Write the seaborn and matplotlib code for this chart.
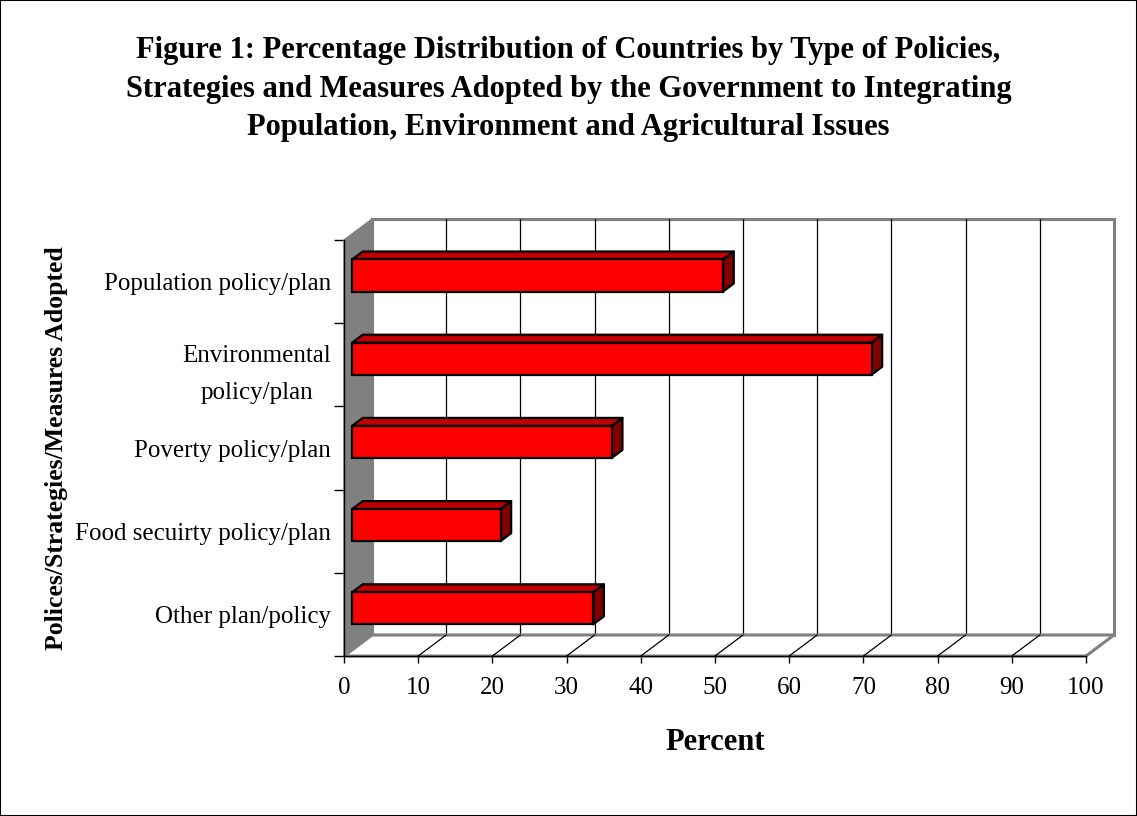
import matplotlib
matplotlib.use("Agg")
import matplotlib.pyplot as plt
from matplotlib.patches import Polygon, Rectangle
import seaborn as sns
import pandas as pd

# ---- data -------------------------------------------------------------
categories = [
    "Population policy/plan",
    "Environmental\npolicy/plan",
    "Poverty policy/plan",
    "Food secuirty policy/plan",
    "Other plan/policy",
]
percent = [50.0, 70.0, 35.0, 20.0, 32.5]
x_ticks = [0, 10, 20, 30, 40, 50, 60, 70, 80, 90, 100]

title = ("Figure 1: Percentage Distribution of Countries by Type of Policies,\n"
         "Strategies and Measures Adopted by the Government to Integrating\n"
         "Population, Environment and Agricultural Issues")
x_label = "Percent"
y_label = "Polices/Strategies/Measures Adopted"

# ---- style ------------------------------------------------------------
sns.set_style("white")
plt.rcParams["font.family"] = ["Liberation Serif", "DejaVu Serif"]
plt.rcParams.update({"text.color": "black", "axes.labelcolor": "black",
                     "xtick.color": "black", "ytick.color": "black"})

W, H = 1137, 816
fig = plt.figure(figsize=(W / 100, H / 100), dpi=100)

# front plane of the 3-D box, in pixels
L, R, T, B = 344, 1086, 240, 656
ax = fig.add_axes([L / W, 1 - B / H, (R - L) / W, (B - T) / H])
ax.set_facecolor("none")

n = len(categories)
xmax = x_ticks[-1]
px_per_x = (R - L) / xmax
px_per_y = (B - T) / n
# depth of the box (oblique projection), converted to data units
ddx = 28 / px_per_x
ddy = -21 / px_per_y
f0, f1 = 0.29, 0.67   # front / back of the bars inside the box depth

df = pd.DataFrame({"policy": categories, "percent": percent})
sns.barplot(data=df, x="percent", y="policy", orient="h", width=0.385,
            color="#FF0000", saturation=1, edgecolor="black", linewidth=1.6,
            ax=ax, zorder=6)
ax.set_xlim(0, xmax)
ax.set_ylim(n - 0.5, -0.5)

bars = list(ax.patches)
for p in bars:
    p.set_x(p.get_x() + f0 * ddx)
    p.set_y(p.get_y() + f0 * ddy)
    p.set_clip_on(False)

# top and side faces of each bar
sx, sy = (f1 - f0) * ddx, (f1 - f0) * ddy
for p in bars:
    x0, w = p.get_x(), p.get_width()
    yt, yb = p.get_y(), p.get_y() + p.get_height()
    if yt > yb:
        yt, yb = yb, yt
    top = Polygon([(x0, yt), (x0 + w, yt), (x0 + w + sx, yt + sy), (x0 + sx, yt + sy)],
                  closed=True, facecolor="#C00000", edgecolor="black",
                  linewidth=1.6, joinstyle="round", zorder=5, clip_on=False)
    side = Polygon([(x0 + w, yt), (x0 + w, yb), (x0 + w + sx, yb + sy), (x0 + w + sx, yt + sy)],
                   closed=True, facecolor="#800000", edgecolor="black",
                   linewidth=1.6, joinstyle="round", zorder=5, clip_on=False)
    ax.add_patch(top)
    ax.add_patch(side)

# back wall with gridlines
grey = "#808080"
ybot, ytop = n - 0.5, -0.5
ax.add_patch(Rectangle((ddx, ytop + ddy), xmax, n, facecolor="white",
                       edgecolor=grey, linewidth=2.2, zorder=0.5, clip_on=False))
for v in x_ticks[1:-1]:
    ax.plot([v + ddx, v + ddx], [ytop + ddy, ybot + ddy], color="black",
            linewidth=0.9, zorder=1, clip_on=False)

# floor with its depth lines
ax.add_patch(Polygon([(0, ybot), (xmax, ybot), (xmax + ddx, ybot + ddy), (ddx, ybot + ddy)],
                     closed=True, facecolor="white", edgecolor=grey, linewidth=2.2,
                     zorder=1.5, clip_on=False))
for v in x_ticks[1:-1]:
    ax.plot([v, v + ddx], [ybot, ybot + ddy], color="black", linewidth=0.9,
            zorder=2, clip_on=False)

# side wall
ax.add_patch(Polygon([(0, ybot), (0, ytop), (ddx, ytop + ddy), (ddx, ybot + ddy)],
                     closed=True, facecolor=grey, edgecolor=grey, linewidth=1,
                     zorder=2.2, clip_on=False))

# axes, ticks and labels
for s in ("top", "right"):
    ax.spines[s].set_visible(False)
for s in ("left", "bottom"):
    ax.spines[s].set_color("black")
    ax.spines[s].set_linewidth(1.0)
    ax.spines[s].set_zorder(3)

ax.set_xticks(x_ticks)
ax.set_xticklabels([str(t) for t in x_ticks])
ax.tick_params(axis="x", direction="out", length=5, width=1, color="black",
               pad=10, labelsize=18, bottom=True)
ax.set_yticks(range(n))
ax.set_yticklabels(categories)
ax.set_yticks([i - 0.5 for i in range(n + 1)], minor=True)
ax.tick_params(axis="y", which="major", length=0, pad=9.5, labelsize=18, left=True)
ax.tick_params(axis="y", which="minor", direction="out", length=7, width=1,
               color="black", left=True)
for lab in ax.get_yticklabels():
    lab.set_multialignment("center")
    lab.set_linespacing(1.85)

ax.set_xlabel(x_label, fontsize=22, fontweight="bold", va="center")
ax.xaxis.set_label_coords(0.5, -(743 - B) / (B - T))
ax.set_ylabel(y_label, fontsize=18.5, fontweight="bold", va="center")
ax.yaxis.set_label_coords(-(L - 57) / (R - L), 0.5)

fig.text(0.5, 1 - 89 / H, title, ha="center", va="center", fontsize=22,
         fontweight="bold", linespacing=1.45)

fig.add_artist(Rectangle((0, 0), 1, 1, transform=fig.transFigure, fill=False,
                         edgecolor="black", linewidth=1.5))

fig.savefig("out.png", dpi=100)
